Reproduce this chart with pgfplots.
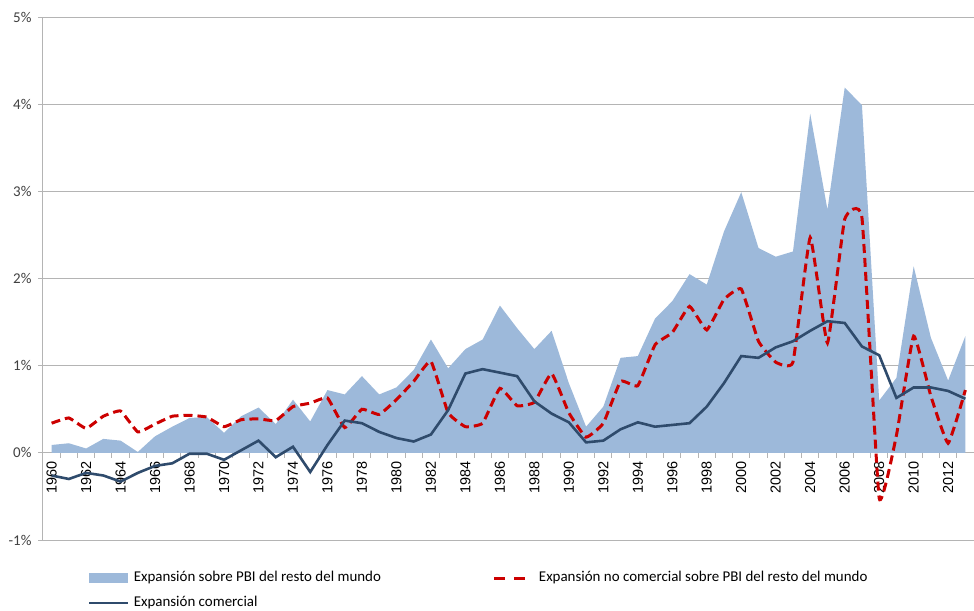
\documentclass[border=0pt]{standalone}
\usepackage{pgfplots}
\pgfplotsset{compat=1.18}
\usepackage{pgfplotstable}
\usepackage{fontspec}
\setmainfont{Carlito}
\newfontfamily\arialfont{Liberation Sans}
\definecolor{areablue}{HTML}{9DB9DA}
\definecolor{darkline}{HTML}{2F4B6C}
\definecolor{dashred}{HTML}{CC0000}
\definecolor{gridgray}{HTML}{B4B4B4}
\definecolor{labelgray}{HTML}{404040}

\pgfplotstableread{
year area nc com
1960 0.09 0.34 -0.26
1961 0.11 0.40 -0.30
1962 0.05 0.28 -0.23
1963 0.16 0.42 -0.26
1964 0.14 0.48 -0.33
1965 0.01 0.24 -0.23
1966 0.19 0.33 -0.15
1967 0.30 0.42 -0.12
1968 0.40 0.43 -0.01
1969 0.41 0.41 -0.01
1970 0.23 0.30 -0.08
1971 0.42 0.38 0.03
1972 0.52 0.39 0.14
1973 0.33 0.37 -0.05
1974 0.61 0.53 0.07
1975 0.36 0.57 -0.22
1976 0.72 0.63 0.09
1977 0.67 0.29 0.37
1978 0.88 0.50 0.34
1979 0.67 0.44 0.24
1980 0.75 0.61 0.17
1981 0.95 0.82 0.13
1982 1.30 1.05 0.21
1983 0.97 0.46 0.49
1984 1.19 0.30 0.91
1985 1.30 0.34 0.96
1986 1.69 0.74 0.92
1987 1.43 0.54 0.88
1988 1.19 0.58 0.59
1989 1.40 0.91 0.45
1990 0.80 0.46 0.35
1991 0.30 0.18 0.12
1992 0.53 0.34 0.14
1993 1.09 0.82 0.27
1994 1.11 0.77 0.35
1995 1.54 1.24 0.30
1996 1.74 1.38 0.32
1997 2.05 1.68 0.34
1998 1.93 1.41 0.53
1999 2.54 1.76 0.80
2000 2.99 1.88 1.11
2001 2.35 1.28 1.09
2002 2.25 1.04 1.21
2003 2.31 1.04 1.28
2004 3.89 2.47 1.40
2005 2.79 1.26 1.51
2006 4.19 2.68 1.49
2007 3.99 2.70 1.22
2008 0.60 -0.52 1.12
2009 0.86 0.20 0.63
2010 2.14 1.34 0.75
2011 1.32 0.65 0.75
2012 0.83 0.11 0.71
2013 1.34 0.72 0.62
}\datatable

\begin{document}
\begin{tikzpicture}
\begin{axis}[
  at={(0,0)}, anchor=south west,
  scale only axis, width=931bp, height=523bp,
  xmin=1959.5, xmax=2013.5, ymin=-1, ymax=5,
  axis x line=middle, axis y line=left,
  axis line style={-, draw=gridgray, line width=1bp},
  hide obscured x ticks=false, hide obscured y ticks=false,
  ytick={-1,0,...,5},
  yticklabels={-1\%,0\%,1\%,2\%,3\%,4\%,5\%},
  yticklabel style={font=\fontsize{15}{17}\selectfont, text=labelgray, xshift=-3bp},
  ymajorgrids, major grid style={draw=gridgray, line width=1bp},
  xtick={1960,1962,...,2012},
  xticklabels={1960,1962,1964,1966,1968,1970,1972,1974,1976,1978,1980,1982,1984,1986,1988,1990,1992,1994,1996,1998,2000,2002,2004,2006,2008,2010,2012},
  xticklabel style={font=\arialfont\fontsize{14.5}{16}\selectfont, rotate=90, anchor=east},
  minor xtick={1959.5,1960.5,...,2013.5},
  tick align=outside,
  major tick length=5bp, minor tick length=5bp,
  major x tick style={draw=none},
  minor x tick style={draw=gridgray, line width=1bp},
  major y tick style={draw=gridgray, line width=1bp},
  legend columns=2,
  legend cell align=left,
  legend style={draw=none, fill=none, inner sep=0pt,
    at={(axis description cs:0.0483,-0.0602)}, anchor=north west,
    font=\fontsize{15}{17}\selectfont,
    nodes={inner xsep=0pt, inner ysep=0pt, text height=10bp, text depth=3bp},
    /tikz/row sep=12bp,
    /tikz/every odd column/.append style={column sep=4bp},
    /tikz/every even column/.append style={column sep=112bp}},
]
\addplot[fill=areablue, draw=none,
  legend image code/.code={\fill[areablue] (0bp,-5bp) rectangle (39bp,5bp);}]
  table[x=year, y=area] {\datatable} \closedcycle;
\addlegendentry{Expansión sobre PBI del resto del mundo}
\addplot[dashred, line width=3bp, dash pattern=on 9bp off 5bp, smooth, tension=0.22,
  legend image code/.code={\draw[dashred, line width=3bp, dash pattern=on 11bp off 9bp] (0bp,0bp) -- (31bp,0bp); \path (39bp,0bp);}]
  table[x=year, y=nc] {\datatable};
\addlegendentry{Expansión no comercial sobre PBI del resto del mundo}
\addplot[darkline, line width=2.6bp,
  legend image code/.code={\draw[darkline, line width=2.6bp] (0bp,0bp) -- (39bp,0bp);}]
  table[x=year, y=com] {\datatable};
\addlegendentry{Expansión comercial}
\end{axis}
\pgfresetboundingbox
\path (-43bp,-71bp) rectangle (931bp,540bp);
\end{tikzpicture}
\end{document}
